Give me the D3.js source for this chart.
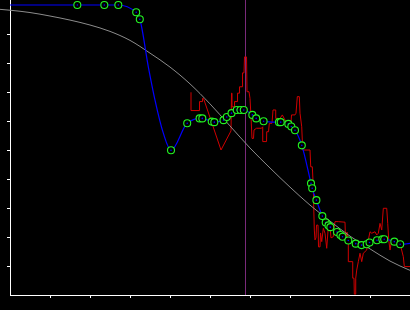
<!DOCTYPE html>
<html>
<head>
<meta charset="utf-8">
<script src="https://cdn.jsdelivr.net/npm/d3@7"></script>
<style>
  body { margin: 0; background: #000; }
  svg { display: block; }
</style>
</head>
<body>
<svg id="chart" width="410" height="310"></svg>
<script>
// grey reference curve
let refX = [-0.25, 0, 0.5, 1, 1.5, 2, 2.5, 3, 3.5, 4, 4.5, 5, 5.5, 6, 6.5, 7, 7.5, 8, 8.5, 9, 9.5, 10];
let refY = [0.985, 0.982, 0.974, 0.962, 0.948, 0.931, 0.909, 0.878, 0.834, 0.786, 0.728, 0.659, 0.583, 0.507, 0.438, 0.372, 0.310, 0.255, 0.203, 0.159, 0.117, 0.085];

// raw signal (red)
let rawX = [4.525, 4.525, 4.738, 4.738, 4.813, 4.813, 4.838, 5.275, 5.525, 5.538,
  5.55, 5.55, 5.613, 5.613, 5.688, 5.688, 5.738, 5.738, 5.813, 5.813, 5.85, 5.863, 5.913, 5.925, 5.975, 6.0, 6.025, 6.05, 6.088, 6.1, 6.163, 6.288, 6.318,
  6.318, 6.413, 6.418, 6.463, 6.483, 6.55, 6.575, 6.643, 6.643, 6.7, 6.725, 6.75, 6.808, 6.85, 6.918, 6.983, 7.013, 7.038, 7.125, 7.15, 7.183, 7.233, 7.25, 7.293, 7.318, 7.5, 7.518, 7.558, 7.583,
  7.595, 7.608, 7.625, 7.65, 7.663, 7.7, 7.713, 7.75, 7.763, 7.793, 7.833, 7.875, 7.918, 7.958, 8.0, 8.025, 8.083, 8.1, 8.125, 8.208, 8.375, 8.388, 8.425, 8.458, 8.458, 8.568, 8.568, 8.6, 8.608, 8.643, 8.643, 8.668, 8.708, 8.75, 8.793, 8.833, 8.918, 8.958, 9.0, 9.043, 9.125, 9.168, 9.208, 9.25, 9.293, 9.333, 9.418, 9.443, 9.468, 9.5, 9.543, 9.583, 9.625, 9.683, 9.75, 9.833, 9.858, 10.0];
let rawY = [0.699, 0.636, 0.636, 0.667, 0.667, 0.678, 0.678, 0.500, 0.566, 0.696,
  0.696, 0.649, 0.649, 0.667, 0.667, 0.696, 0.696, 0.718, 0.718, 0.766, 0.766, 0.821, 0.821, 0.701, 0.701, 0.678, 0.615, 0.540, 0.540, 0.569, 0.575, 0.575, 0.580,
  0.529, 0.529, 0.563, 0.563, 0.592, 0.592, 0.638, 0.638, 0.609, 0.609, 0.598, 0.609, 0.621, 0.610, 0.592, 0.592, 0.569, 0.621, 0.621, 0.627, 0.684, 0.684, 0.627, 0.580, 0.500, 0.500, 0.442, 0.442, 0.373,
  0.293, 0.224, 0.190, 0.197, 0.241, 0.241, 0.166, 0.166, 0.214, 0.184, 0.230, 0.213, 0.161, 0.236, 0.234, 0.197, 0.201, 0.231, 0.253, 0.253, 0.251, 0.190, 0.217, 0.190, 0.115, 0.115, 0.058, 0.058, 0.003, 0.003, 0.058, 0.086, 0.115, 0.144, 0.115, 0.144, 0.155, 0.190, 0.218, 0.213, 0.218, 0.207, 0.213, 0.247, 0.224, 0.299, 0.299, 0.247, 0.190, 0.155, 0.190, 0.178, 0.172, 0.184, 0.178, 0.132, 0.098, 0.098];

// sampled points (green circles)
let markX = [1.683, 2.358, 2.708, 3.155, 3.245, 4.025, 4.430, 4.740, 4.808, 5.043, 5.108, 5.338, 5.420, 5.538, 5.668, 5.763, 5.845,
  6.058, 6.155, 6.340, 6.725, 6.768, 6.958, 7.033, 7.125, 7.295, 7.525, 7.555, 7.660, 7.808, 7.893, 7.963, 8.008,
  8.175, 8.260, 8.313, 8.458, 8.643, 8.788, 8.918, 8.988, 9.175, 9.308, 9.355, 9.608, 9.755];
let markY = [1.0, 1.0, 1.0, 0.975, 0.951, 0.499, 0.592, 0.609, 0.609, 0.598, 0.596, 0.603, 0.614, 0.627, 0.638, 0.638, 0.638,
  0.621, 0.609, 0.599, 0.596, 0.596, 0.590, 0.581, 0.568, 0.516, 0.385, 0.368, 0.327, 0.272, 0.250, 0.240, 0.234,
  0.217, 0.207, 0.201, 0.188, 0.177, 0.172, 0.175, 0.181, 0.189, 0.192, 0.192, 0.184, 0.175];

// extra knots of the fitted curve (blue) that carry no marker
let knotX = [0, 3.458, 3.625, 3.833, 10];
let knotY = [1.0, 0.787, 0.672, 0.558, 0.178];

let xTicks = [1, 2, 3, 4, 5, 6, 7, 8, 9, 10];
let yTicks = [0.1, 0.2, 0.3, 0.4, 0.5, 0.6, 0.7, 0.8, 0.9];
let markerX = 5.875;

let svg = d3.select('#chart');

svg.append('rect')
  .attr('width', 410)
  .attr('height', 310)
  .attr('fill', '#000');

let x = d3.scaleLinear().domain([0, 10]).range([10, 410]);
let y = d3.scaleLinear().domain([0, 1]).range([295, 5]);

// axes
svg.append('g')
  .attr('transform', 'translate(0,295)')
  .call(d3.axisBottom(x).tickValues(xTicks).tickSize(3).tickSizeOuter(0).tickFormat(''))
  .call(g => g.select('.domain').remove())
  .call(g => g.selectAll('line').attr('stroke', '#fff'));

svg.append('g')
  .attr('transform', 'translate(10,0)')
  .call(d3.axisLeft(y).tickValues(yTicks).tickSize(3).tickSizeOuter(0).tickFormat(''))
  .call(g => g.select('.domain').remove())
  .call(g => g.selectAll('line').attr('stroke', '#fff'));

svg.append('line')
  .attr('x1', 10.5).attr('x2', 10.5)
  .attr('y1', 0).attr('y2', 296)
  .attr('stroke', '#fff');

svg.append('line')
  .attr('x1', 10).attr('x2', 410)
  .attr('y1', 295.5).attr('y2', 295.5)
  .attr('stroke', '#fff');

// vertical marker
svg.append('line')
  .attr('x1', x(markerX) + 0.5).attr('x2', x(markerX) + 0.5)
  .attr('y1', 0).attr('y2', 295)
  .attr('stroke', '#7a2a7a');

let line = d3.line()
  .x(d => x(d[0]))
  .y(d => y(d[1]));

svg.append('path')
  .datum(d3.zip(rawX, rawY))
  .attr('fill', 'none')
  .attr('stroke', '#d00000')
  .attr('stroke-width', 1)
  .attr('d', line);

svg.append('path')
  .datum(d3.zip(refX, refY))
  .attr('fill', 'none')
  .attr('stroke', '#8c8c8c')
  .attr('stroke-width', 1)
  .attr('d', line.curve(d3.curveMonotoneX));

let fit = d3.zip(markX, markY).concat(d3.zip(knotX, knotY))
  .sort((a, b) => a[0] - b[0]);

svg.append('path')
  .datum(fit)
  .attr('fill', 'none')
  .attr('stroke', '#0000ff')
  .attr('stroke-width', 1.2)
  .attr('d', line.curve(d3.curveMonotoneX));

let marks = svg.append('g')
  .selectAll('g')
  .data(d3.zip(markX, markY))
  .join('g')
  .attr('transform', d => `translate(${x(d[0])},${y(d[1])})`);

marks.append('circle')
  .attr('r', 3.5)
  .attr('fill', '#000')
  .attr('stroke', '#22f522')
  .attr('stroke-width', 1.1);

marks.append('circle')
  .attr('r', 0.8)
  .attr('fill', '#0000ff');
</script>
</body>
</html>
